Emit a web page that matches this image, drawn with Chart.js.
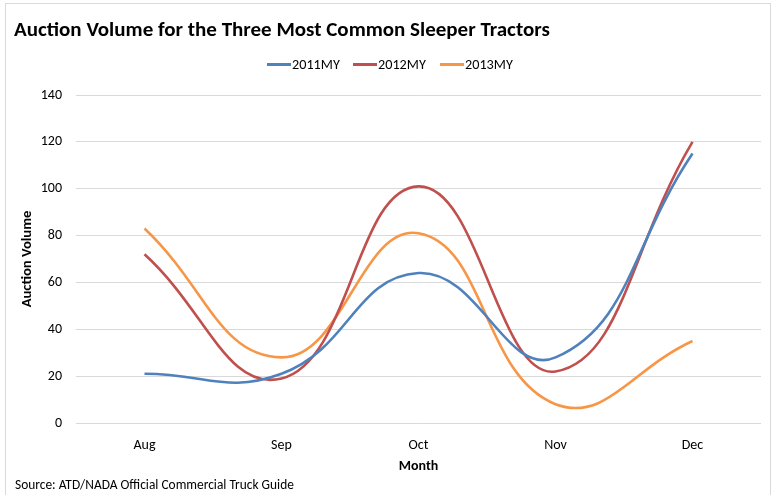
<!DOCTYPE html>
<html>
<head>
<meta charset="utf-8">
<script src="https://cdn.jsdelivr.net/npm/chart.js@4/dist/chart.umd.min.js"></script>
<style>
  html, body { margin: 0; padding: 0; background: #fff; }
  #wrap { position: relative; width: 773px; height: 495px; overflow: hidden; }
  #frame { position: absolute; left: 5px; top: 3px; width: 766px; height: 520px;
           border: 1px solid #d9d9d9; box-sizing: border-box; }
  canvas { position: absolute; left: 0; top: 0; }
</style>
</head>
<body>
<div id="wrap">
  <div id="frame"></div>
  <canvas id="c" width="773" height="495"></canvas>
</div>
<script>
// Monthly auction counts per model year
const months = ['Aug', 'Sep', 'Oct', 'Nov', 'Dec'];
const my2011 = [21, 21, 64, 28, 115];
const my2012 = [72, 19, 101, 22, 120];
const my2013 = [83, 28, 81, 8, 35];
const seriesNames = ['2011MY', '2012MY', '2013MY'];
const yTicks = [0, 20, 40, 60, 80, 100, 120, 140];

const titleText = 'Auction Volume for the Three Most Common Sleeper Tractors';
const sourceText = 'Source: ATD/NADA Official Commercial Truck Guide';

const NARROW = '"Carlito", "Liberation Sans Narrow", "DejaVu Sans Condensed", sans-serif';
const colors = ['#4F81BD', '#C0504D', '#F79646'];

// Title, custom legend and source note
const decorations = {
  id: 'decorations',
  afterDraw(chart) {
    const ctx = chart.ctx;
    ctx.save();
    ctx.fillStyle = '#000';
    ctx.textBaseline = 'alphabetic';
    ctx.textAlign = 'left';
    ctx.font = 'bold 21px ' + NARROW;
    ctx.fillText(titleText, 14, 36);

    ctx.font = '14.2px ' + NARROW;
    ctx.textBaseline = 'middle';
    const legendX = [267, 353, 440];
    chart.data.datasets.forEach((ds, i) => {
      const x = legendX[i];
      ctx.strokeStyle = ds.borderColor;
      ctx.lineWidth = 3;
      ctx.beginPath();
      ctx.moveTo(x, 64.5);
      ctx.lineTo(x + 24, 64.5);
      ctx.stroke();
      ctx.fillStyle = '#000';
      ctx.fillText(ds.label, x + 25, 65);
    });

    ctx.textBaseline = 'alphabetic';
    ctx.font = '13.4px ' + NARROW;
    ctx.fillText(sourceText, 15, 489);
    ctx.restore();
  }
};

const datasets = [my2011, my2012, my2013].map((vals, i) => ({
  label: seriesNames[i],
  data: vals,
  borderColor: colors[i],
  backgroundColor: colors[i],
  borderWidth: 2.6,
  pointRadius: 0,
  tension: 0.45,
  fill: false
}));

new Chart(document.getElementById('c'), {
  type: 'line',
  data: { labels: months, datasets },
  plugins: [decorations],
  options: {
    responsive: false,
    animation: false,
    devicePixelRatio: 1,
    layout: { padding: { top: 95, left: 5, right: 12, bottom: 0 } },
    plugins: {
      legend: { display: false },
      title: { display: false },
      tooltip: { enabled: false }
    },
    scales: {
      x: {
        offset: true,
        grid: { display: false, drawTicks: false },
        border: { display: false },
        ticks: { color: '#000', font: { family: NARROW, size: 14 }, padding: 14 },
        title: { display: true, text: 'Month', color: '#000',
                 font: { family: NARROW, size: 14, weight: 'bold' }, padding: { top: 0, bottom: 20 } },
        afterFit(scale) { scale.height = 495 - 423; }
      },
      y: {
        min: 0, max: 140,
        afterBuildTicks(scale) {
          scale.ticks = yTicks.map(v => ({ value: v }));
        },
        grid: { color: '#d9d9d9', lineWidth: 1, drawTicks: false },
        border: { display: false },
        ticks: { color: '#000', font: { family: NARROW, size: 14 }, padding: 14 },
        title: { display: true, text: 'Auction Volume', color: '#000',
                 font: { family: NARROW, size: 14.6, weight: 'bold' }, padding: { top: 14, bottom: 0 } },
        afterFit(scale) { scale.width = 76 - 5; }
      }
    }
  }
});
</script>
</body>
</html>
